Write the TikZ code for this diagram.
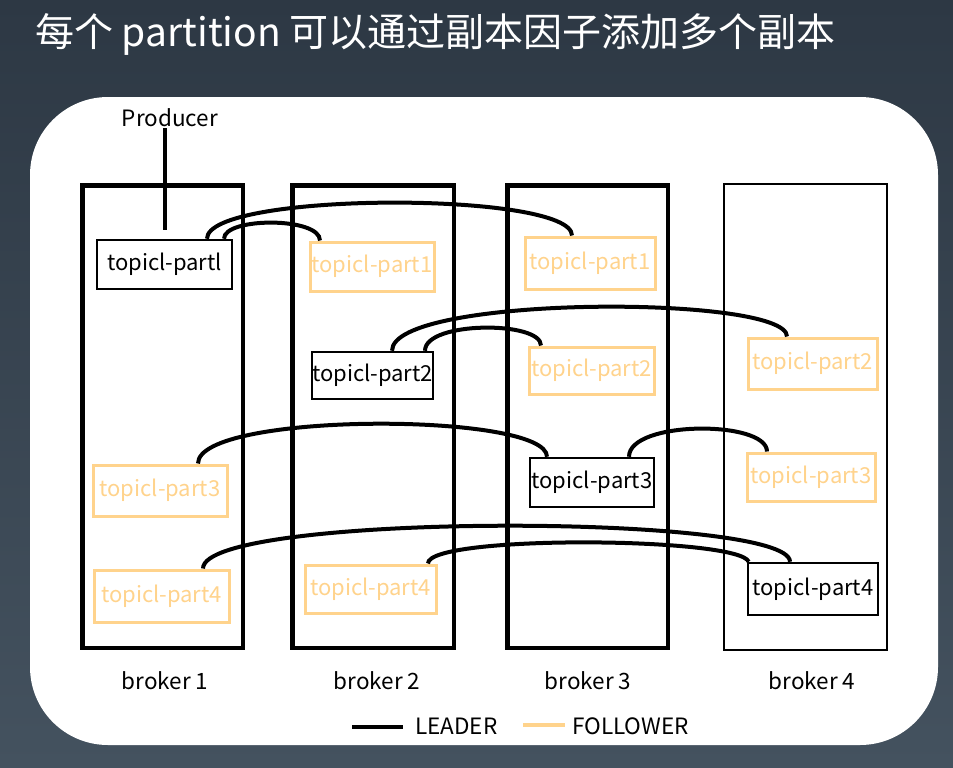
\documentclass[tikz,border=0pt]{standalone}
\usepackage{fontspec}
\setmainfont{Noto Sans CJK SC}
\definecolor{bgtop}{RGB}{45,56,68}
\definecolor{bgbot}{RGB}{68,82,95}
\definecolor{foll}{RGB}{255,211,140}
\tikzset{
  brokerbox/.style={draw=black, line width=4.5pt, inner sep=0pt},
  brokerthin/.style={draw=black, line width=2pt, inner sep=0pt},
  leaderbox/.style={draw=black, line width=2.5pt, text=black, inner sep=0pt, font=\fontsize{22}{25}\selectfont},
  followbox/.style={draw=foll, line width=3pt, text=foll, inner sep=0pt, font=\fontsize{22}{25}\selectfont},
  lbl/.style={text=black, font=\fontsize{22.5}{25}\selectfont, inner sep=1pt},
  link/.style={draw=black, line width=4pt},
}
\begin{document}
\begin{tikzpicture}[x=1pt,y=-1pt]
\useasboundingbox (0,0) rectangle (953,768);
\shade[top color=bgtop, bottom color=bgbot] (0,0) rectangle (953,768);
\fill[white, rounded corners=78pt] (30,97) rectangle (938,745);
\node[anchor=west, text=white, font=\fontsize{39}{43}\selectfont, inner sep=0pt] (title) at (35,34) {每个 partition 可以通过副本因子添加多个副本};

% brokers
\node[brokerbox, minimum width=160.5pt, minimum height=462.5pt] (b1) at (162.5,416.5) {};
\node[brokerbox, minimum width=161.5pt, minimum height=462.5pt] (b2) at (373,416.5) {};
\node[brokerbox, minimum width=160.5pt, minimum height=462.5pt] (b3) at (587.5,416.5) {};
\node[brokerthin, minimum width=163pt, minimum height=466pt] (b4) at (805.5,417) {};
\node[lbl] (b1l) at (165,681) {broker 1};
\node[lbl] (b2l) at (377,681) {broker 2};
\node[lbl] (b3l) at (588,681) {broker 3};
\node[lbl] (b4l) at (812,681) {broker 4};

% partitions
\node[leaderbox, minimum width=135pt, minimum height=49pt] (L1) at (164.5,264.5) {topicl-partl};
\node[followbox, minimum width=124pt, minimum height=49pt] (F1a) at (372,266.5) {topicl-part1};
\node[followbox, minimum width=130pt, minimum height=52pt] (F1b) at (590,263) {topicl-part1};
\node[leaderbox, minimum width=121pt, minimum height=47pt] (L2) at (372.5,375.5) {topicl-part2};
\node[followbox, minimum width=125pt, minimum height=47pt] (F2a) at (591.5,370.5) {topicl-part2};
\node[followbox, minimum width=129pt, minimum height=51pt] (F2b) at (812.5,363.5) {topicl-part2};
\node[followbox, minimum width=134pt, minimum height=51pt] (F3a) at (160,490.5) {topicl-part3};
\node[leaderbox, minimum width=124pt, minimum height=49pt] (L3) at (592,482.5) {topicl-part3};
\node[followbox, minimum width=128pt, minimum height=48pt] (F3b) at (811,477) {topicl-part3};
\node[followbox, minimum width=135pt, minimum height=52pt] (F4a) at (161.5,596) {topicl-part4};
\node[followbox, minimum width=131pt, minimum height=48pt] (F4b) at (370.5,589) {topicl-part4};
\node[leaderbox, minimum width=130pt, minimum height=52pt] (L4) at (813,589) {topicl-part4};

% producer
\node[lbl] (prod) at (170,118) {Producer};
\coordinate (pin) at (165,230);
\draw[link] (prod.south -| pin) -- (pin);

% links
\draw[link] ([xshift=42.5pt]L1.north) .. controls +(0,-47.5) and +(0,-44.5) .. ([xshift=-18pt]F1b.north);
\draw[link] ([xshift=59.5pt]L1.north) .. controls +(0,-21.7) and +(0,-23.7) .. ([xshift=-52pt]F1a.north);
\draw[link] ([xshift=19.5pt]L2.north) .. controls +(0,-56) and +(0,-42) .. ([xshift=-25.5pt]F2b.north);
\draw[link] ([xshift=52.5pt]L2.north) .. controls +(0,-29.8) and +(0,-24.8) .. ([xshift=-50.5pt]F2a.north);
\draw[link] ([xshift=38pt]F3a.north) .. controls +(0,-52) and +(0,-45) .. ([xshift=-45pt]L3.north);
\draw[link] ([xshift=37pt]L3.north) .. controls +(0,-36.5) and +(0,-31.5) .. ([xshift=-44pt]F3b.north);
\draw[link] ([xshift=41.5pt]F4a.north) .. controls +(0,-56) and +(0,-49) .. ([xshift=-23pt]L4.north);
\draw[link] ([xshift=57.5pt]F4b.north) .. controls +(0,-29) and +(-10,-25) .. ([xshift=2pt]L4.north west);

% legend
\coordinate (lg1a) at (352,727);
\coordinate (lg1b) at (403,727);
\coordinate (lg2a) at (523,725);
\coordinate (lg2b) at (565,725);
\draw[link] (lg1a) -- (lg1b);
\node[lbl, anchor=west] (leg1) at (414,726) {LEADER};
\draw[draw=foll, line width=4pt] (lg2a) -- (lg2b);
\node[lbl, anchor=west] (leg2) at (571,726) {FOLLOWER};
\end{tikzpicture}
\end{document}
